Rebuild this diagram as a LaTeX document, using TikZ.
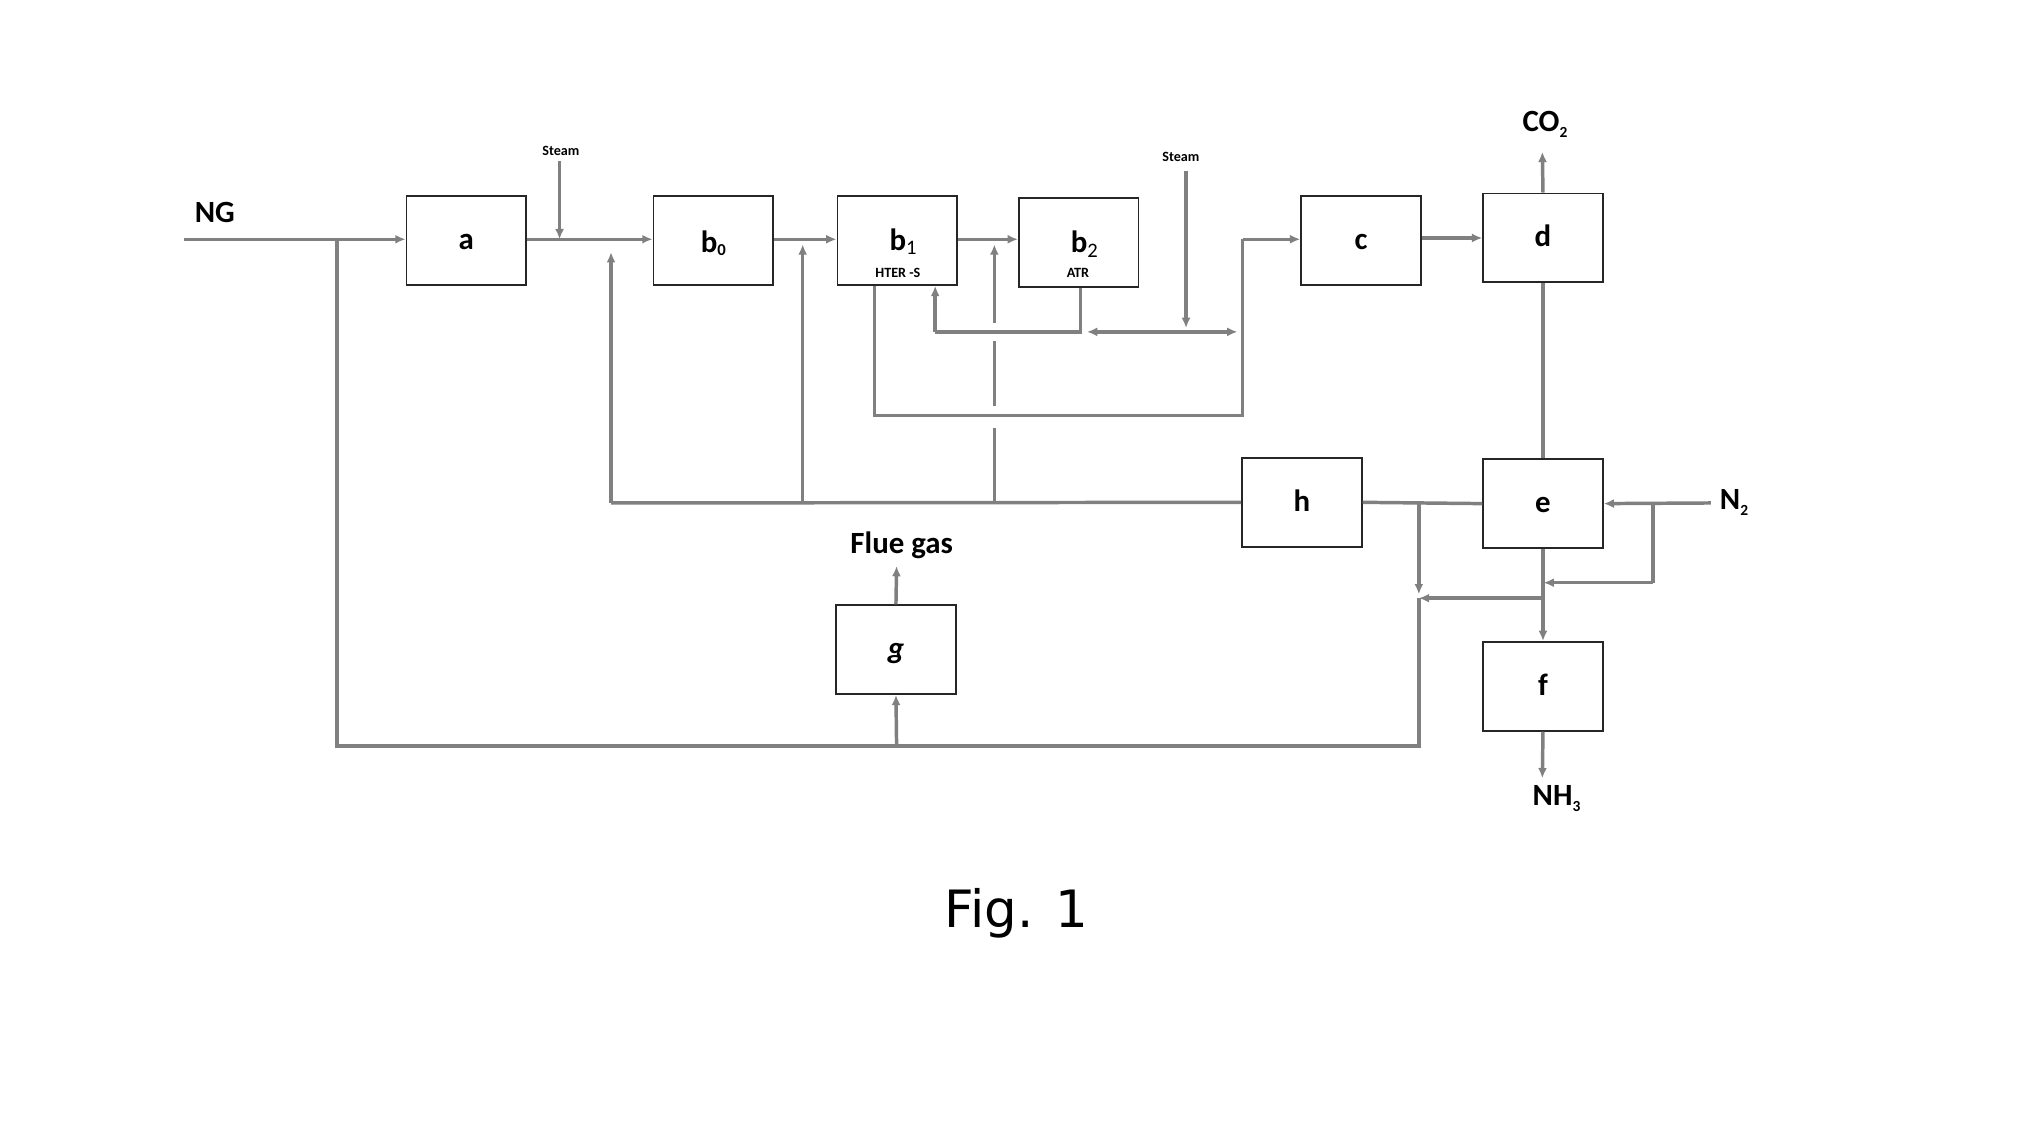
\documentclass[tikz,border=0pt]{standalone}
\usepackage{fontspec}
\setmainfont{Carlito}
\newfontfamily\figfont{DejaVu Sans}
\usetikzlibrary{arrows.meta}
\tikzset{
  unit/.style={draw=black!85, line width=1.4pt, fill=white, minimum width=93pt, minimum height=69pt, inner sep=0pt, text height=14pt, text depth=0pt, font=\fontsize{24}{26}\selectfont\bfseries},
  flow/.style={draw=black!50, line width=2.7pt},
  arr/.style={flow, -{Latex[length=8pt,width=7pt]}},
  lbl/.style={font=\fontsize{24}{26}\selectfont\bfseries, inner sep=0pt},
  small/.style={font=\fontsize{11}{12}\selectfont\bfseries, inner sep=0pt},
}
\begin{document}
\begin{tikzpicture}[x=1pt,y=-1pt]
\useasboundingbox (0,0) rectangle (1568,886);
% coordinates
\coordinate (ng) at (143,186);
\coordinate (jloopL) at (262,186);
\coordinate (s1top) at (435,125);
\coordinate (s1bot) at (435,186);
\coordinate (s2top) at (922,133);
\coordinate (s2bot) at (922,255);
\coordinate (s2j) at (922,258);
\coordinate (hotL) at (727,258);
\coordinate (b2d) at (840,258);
\coordinate (hotR) at (962,258);
\coordinate (loopR) at (966,323);
\coordinate (loopRt) at (966,186);
\coordinate (b1d) at (680,323);
\coordinate (r1top) at (475,196);
\coordinate (r1bot) at (475,391);
\coordinate (r2top) at (624,190);
\coordinate (r2bot) at (624,391);
\coordinate (r3top) at (773,190);
\coordinate (r3bot) at (773,391);
\coordinate (co2end) at (1199,118);
\coordinate (nh3end) at (1199,605);
\coordinate (n2start) at (1330,391);
\coordinate (n2j) at (1285,391);
\coordinate (n2d) at (1285,453);
\coordinate (n2e) at (1200,453);
\coordinate (ef) at (1200,465);
\coordinate (pj) at (1103,465);
\coordinate (pjtop) at (1103,391);
\coordinate (pjarr) at (1103,462);
\coordinate (pbot) at (1103,580);
\coordinate (gj) at (697,580);
\coordinate (lbot) at (262,580);
\coordinate (fgend) at (697,440);
% units
\node[unit] (a) at (362.5,187) {a};
\node[unit] (b0) at (554.5,187) {};
\node[lbl] at (554.5,189) {b\raisebox{-0.25ex}{\fontsize{13}{14}\selectfont 0}};
\node[unit] (b1) at (697.5,187) {};
\node[lbl] (b1t) at (702,188) {b\raisebox{-0.3ex}{\fontsize{16}{16}\mdseries 1}};
\node[small] (b1s) at (698,212) {HTER -S};
\node[unit] (b2) at (838.5,188.5) {};
\node[lbl] (b2t) at (843,190) {b\raisebox{-0.3ex}{\fontsize{16}{16}\mdseries 2}};
\node[small] (b2s) at (838,212) {ATR};
\node[unit] (c) at (1058,187) {c};
\node[unit] (d) at (1199.5,185) {d};
\node[unit] (e) at (1199.5,391.5) {e};
\node[unit] (f) at (1199.5,533.5) {f};
\node[unit] (g) at (696.5,505) {\itshape g};
\node[unit] (h) at (1012,390.5) {h};
% labels
\node[lbl] (nglbl) at (167,165) {NG};
\node[small] (st1) at (436,117) {Steam};
\node[small] (st2) at (918,122) {Steam};
\node[lbl] (co2) at (1201,97) {CO\raisebox{-0.4ex}{\fontsize{12}{12}\selectfont 2}};
\node[lbl] (nh3) at (1210,621) {NH\raisebox{-0.4ex}{\fontsize{12}{12}\selectfont 3}};
\node[lbl] (n2) at (1348,391) {N\raisebox{-0.4ex}{\fontsize{12}{12}\selectfont 2}};
\node[lbl] (fg) at (701,424) {Flue gas};
\node[font=\figfont\fontsize{40}{44}\selectfont] (fig) at (790,710) {Fig. 1};
% main line
\draw[arr] (ng) -- (a.west |- ng);
\draw[arr] (s1top) -- (s1bot);
\draw[arr] (a.east |- ng) -- (b0.west |- ng);
\draw[arr] (b0.east |- ng) -- (b1.west |- ng);
\draw[arr] (b1.east |- ng) -- (b2.west |- ng);
% b2 hot effluent to b1
\draw[flow] (b2.south -| b2d) -- (b2d) -- (hotL);
\draw[arr] (hotL) -- (hotL |- b1.south);
\draw[arr] (s2top) -- (s2bot);
\draw[arr] (s2j) -- ([xshift=5pt]b2d);
\draw[arr] (s2j) -- (hotR);
% b1 outlet loop to c
\draw[flow] (b1.south -| b1d) -- (b1d) -- (loopR) -- (loopRt);
\draw[arr] (loopRt) -- (loopRt -| c.west);
\draw[arr] (c.east |- d.west) -- (d.west);
\draw[arr] (d.north) -- (co2end);
\draw[flow] (d.south) -- (e.north);
\draw[arr] (e.south) -- (f.north);
\draw[arr] (f.south) -- (nh3end);
% N2
\draw[arr] (n2start) -- (e.east);
\draw[flow] (n2j) -- (n2d);
\draw[arr] (n2d) -- (n2e);
% purge
\draw[flow] (e.west) -- (h.east);
\draw[arr] (pjtop) -- (pjarr);
\draw[arr] (ef) -- (pj);
\draw[flow] (pj) -- (pbot) -- (lbot) -- (jloopL);
\draw[arr] (gj) -- (g.south);
\draw[arr] (g.north) -- (fgend);
% h recycle
\draw[flow] (h.west) -- (r1bot);
\draw[arr] (r1bot) -- (r1top);
\draw[arr] (r2bot) -- (r2top);
\draw[flow] (r3bot) -- ([yshift=-10pt]r3bot |- loopR);
\draw[flow] ([yshift=7pt]r3bot |- loopR) -- ([yshift=-7pt]r3bot |- hotL);
\draw[arr] ([yshift=7pt]r3bot |- hotL) -- (r3top);
\end{tikzpicture}
\end{document}
